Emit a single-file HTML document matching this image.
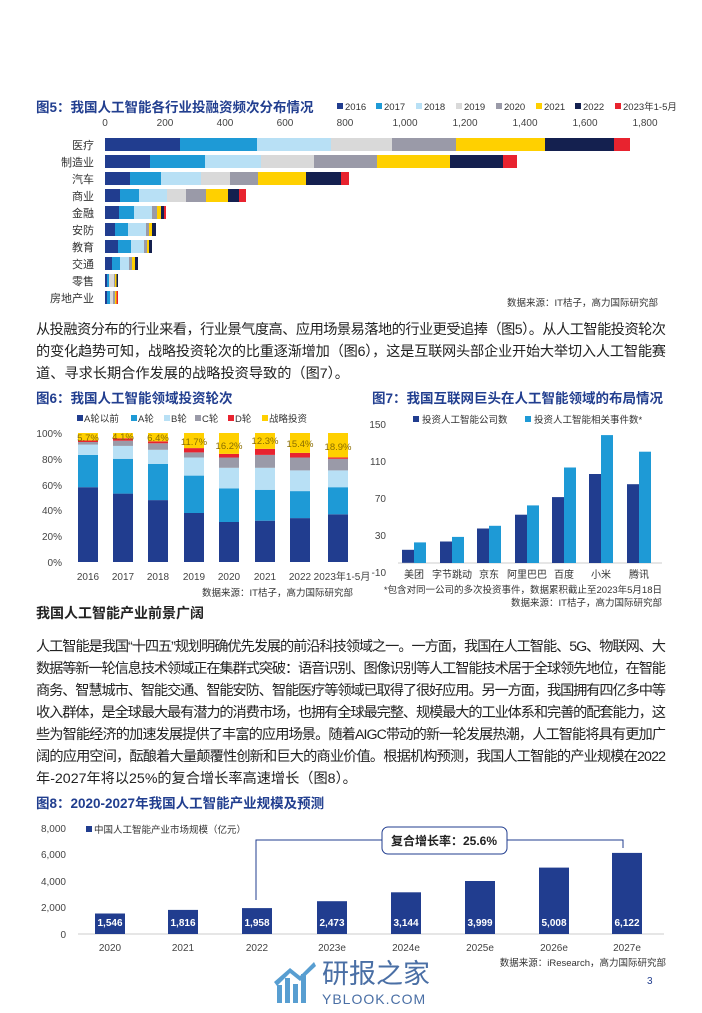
<!DOCTYPE html>
<html><head><meta charset="utf-8"><style>
body{margin:0;background:#fff}
svg{display:block;font-family:"Liberation Sans","Noto Sans CJK SC",sans-serif}
.t{font-weight:bold;fill:#213e8f;font-size:13.5px}
.ax{font-size:10px;fill:#444}
.p{font-size:14.2px;fill:#222}
.s{font-size:9.5px;fill:#333}
</style></head><body>
<svg width="702" height="1013" viewBox="0 0 702 1013" xmlns="http://www.w3.org/2000/svg">
<!-- Fig5 -->
<text x="36" y="112" class="t">图5：我国人工智能各行业投融资频次分布情况</text>
<g font-size="9.5" fill="#333">
<rect x="337" y="103" width="6" height="6" fill="#213d8f"/><text x="345" y="110">2016</text>
<rect x="376" y="103" width="6" height="6" fill="#1e9ad6"/><text x="384" y="110">2017</text>
<rect x="416" y="103" width="6" height="6" fill="#b8e0f5"/><text x="424" y="110">2018</text>
<rect x="456" y="103" width="6" height="6" fill="#d9d9d9"/><text x="464" y="110">2019</text>
<rect x="496" y="103" width="6" height="6" fill="#9a9aa8"/><text x="504" y="110">2020</text>
<rect x="536" y="103" width="6" height="6" fill="#ffd000"/><text x="544" y="110">2021</text>
<rect x="575" y="103" width="6" height="6" fill="#14204f"/><text x="583" y="110">2022</text>
<rect x="615" y="103" width="6" height="6" fill="#e8232f"/><text x="623" y="110">2023年1-5月</text>
</g>
<g class="ax" text-anchor="middle">
<text x="105" y="126">0</text><text x="165" y="126">200</text><text x="225" y="126">400</text><text x="285" y="126">600</text><text x="345" y="126">800</text><text x="405" y="126">1,000</text><text x="465" y="126">1,200</text><text x="525" y="126">1,400</text><text x="585" y="126">1,600</text><text x="645" y="126">1,800</text>
</g>
<g font-size="11" fill="#333" text-anchor="end">
<text x="94" y="149">医疗</text><text x="94" y="166">制造业</text><text x="94" y="183">汽车</text><text x="94" y="200">商业</text><text x="94" y="217">金融</text><text x="94" y="234">安防</text><text x="94" y="251">教育</text><text x="94" y="268">交通</text><text x="94" y="285">零售</text><text x="94" y="302">房地产业</text>
</g>
<g>
<rect x="105" y="138" width="75" height="13" fill="#213d8f"/><rect x="180" y="138" width="77" height="13" fill="#1e9ad6"/><rect x="257" y="138" width="74" height="13" fill="#b8e0f5"/><rect x="331" y="138" width="61" height="13" fill="#d9d9d9"/><rect x="392" y="138" width="64" height="13" fill="#9a9aa8"/><rect x="456" y="138" width="89" height="13" fill="#ffd000"/><rect x="545" y="138" width="69" height="13" fill="#14204f"/><rect x="614" y="138" width="16" height="13" fill="#e8232f"/>
<rect x="105" y="155" width="45" height="13" fill="#213d8f"/><rect x="150" y="155" width="55" height="13" fill="#1e9ad6"/><rect x="205" y="155" width="56" height="13" fill="#b8e0f5"/><rect x="261" y="155" width="53" height="13" fill="#d9d9d9"/><rect x="314" y="155" width="63" height="13" fill="#9a9aa8"/><rect x="377" y="155" width="73" height="13" fill="#ffd000"/><rect x="450" y="155" width="53" height="13" fill="#14204f"/><rect x="503" y="155" width="14" height="13" fill="#e8232f"/>
<rect x="105" y="172" width="25" height="13" fill="#213d8f"/><rect x="130" y="172" width="31" height="13" fill="#1e9ad6"/><rect x="161" y="172" width="40" height="13" fill="#b8e0f5"/><rect x="201" y="172" width="29" height="13" fill="#d9d9d9"/><rect x="230" y="172" width="28" height="13" fill="#9a9aa8"/><rect x="258" y="172" width="48" height="13" fill="#ffd000"/><rect x="306" y="172" width="35" height="13" fill="#14204f"/><rect x="341" y="172" width="8" height="13" fill="#e8232f"/>
<rect x="105" y="189" width="15" height="13" fill="#213d8f"/><rect x="120" y="189" width="19" height="13" fill="#1e9ad6"/><rect x="139" y="189" width="28" height="13" fill="#b8e0f5"/><rect x="167" y="189" width="19" height="13" fill="#d9d9d9"/><rect x="186" y="189" width="20" height="13" fill="#9a9aa8"/><rect x="206" y="189" width="22" height="13" fill="#ffd000"/><rect x="228" y="189" width="11" height="13" fill="#14204f"/><rect x="239" y="189" width="7" height="13" fill="#e8232f"/>
<rect x="105" y="206" width="14" height="13" fill="#213d8f"/><rect x="119" y="206" width="15" height="13" fill="#1e9ad6"/><rect x="134" y="206" width="18" height="13" fill="#b8e0f5"/><rect x="152" y="206" width="5" height="13" fill="#9a9aa8"/><rect x="157" y="206" width="4" height="13" fill="#ffd000"/><rect x="161" y="206" width="3" height="13" fill="#14204f"/><rect x="164" y="206" width="2" height="13" fill="#e8232f"/>
<rect x="105" y="223" width="10" height="13" fill="#213d8f"/><rect x="115" y="223" width="13" height="13" fill="#1e9ad6"/><rect x="128" y="223" width="18" height="13" fill="#b8e0f5"/><rect x="146" y="223" width="3" height="13" fill="#9a9aa8"/><rect x="149" y="223" width="3" height="13" fill="#ffd000"/><rect x="152" y="223" width="4" height="13" fill="#14204f"/>
<rect x="105" y="240" width="13" height="13" fill="#213d8f"/><rect x="118" y="240" width="13" height="13" fill="#1e9ad6"/><rect x="131" y="240" width="13" height="13" fill="#b8e0f5"/><rect x="144" y="240" width="3" height="13" fill="#9a9aa8"/><rect x="147" y="240" width="2" height="13" fill="#ffd000"/><rect x="149" y="240" width="3" height="13" fill="#14204f"/>
<rect x="105" y="257" width="7" height="13" fill="#213d8f"/><rect x="112" y="257" width="8" height="13" fill="#1e9ad6"/><rect x="120" y="257" width="9" height="13" fill="#b8e0f5"/><rect x="129" y="257" width="3" height="13" fill="#9a9aa8"/><rect x="132" y="257" width="3" height="13" fill="#ffd000"/><rect x="135" y="257" width="3" height="13" fill="#14204f"/>
<rect x="105" y="274" width="2" height="13" fill="#213d8f"/><rect x="107" y="274" width="2" height="13" fill="#1e9ad6"/><rect x="109" y="274" width="5" height="13" fill="#d9d9d9"/><rect x="114" y="274" width="1" height="13" fill="#9a9aa8"/><rect x="115" y="274" width="1.5" height="13" fill="#ffd000"/><rect x="116.5" y="274" width="1.5" height="13" fill="#14204f"/>
<rect x="105" y="291" width="2" height="13" fill="#213d8f"/><rect x="107" y="291" width="3" height="13" fill="#1e9ad6"/><rect x="110" y="291" width="3" height="13" fill="#d9d9d9"/><rect x="113" y="291" width="2" height="13" fill="#9a9aa8"/><rect x="115" y="291" width="1.5" height="13" fill="#ffd000"/><rect x="116.5" y="291" width="1.5" height="13" fill="#e8232f"/>
</g>
<text x="658" y="306" class="s" text-anchor="end">数据来源：IT桔子，高力国际研究部</text>
<!-- Paragraph 1 -->
<text x="36" y="334" class="p" textLength="630" lengthAdjust="spacing">从投融资分布的行业来看，行业景气度高、应用场景易落地的行业更受追捧（图5）。从人工智能投资轮次</text>
<text x="36" y="356" class="p" textLength="630" lengthAdjust="spacing">的变化趋势可知，战略投资轮次的比重逐渐增加（图6），这是互联网头部企业开始大举切入人工智能赛</text>
<text x="36" y="378" class="p">道、寻求长期合作发展的战略投资导致的（图7）。</text>
<!-- Fig6 -->
<text x="36" y="403" class="t">图6：我国人工智能领域投资轮次</text>
<g font-size="9.5" fill="#333">
<rect x="77" y="415" width="6" height="6" fill="#213d8f"/><text x="84" y="422">A轮以前</text>
<rect x="131" y="415" width="6" height="6" fill="#1e9ad6"/><text x="138" y="422">A轮</text>
<rect x="164" y="415" width="6" height="6" fill="#b8e0f5"/><text x="171" y="422">B轮</text>
<rect x="195" y="415" width="6" height="6" fill="#9a9aa8"/><text x="202" y="422">C轮</text>
<rect x="228" y="415" width="6" height="6" fill="#e8232f"/><text x="235" y="422">D轮</text>
<rect x="262" y="415" width="6" height="6" fill="#ffd000"/><text x="269" y="422">战略投资</text>
</g>
<g class="ax" text-anchor="end">
<text x="62" y="437">100%</text><text x="62" y="463">80%</text><text x="62" y="489">60%</text><text x="62" y="514">40%</text><text x="62" y="540">20%</text><text x="62" y="566">0%</text>
</g>
<g>
<g transform="translate(78,0)"><rect y="487.2" width="20" height="74.8" fill="#213d8f"/><rect y="454.9" width="20" height="32.3" fill="#1e9ad6"/><rect y="444.6" width="20" height="10.3" fill="#b8e0f5"/><rect y="442" width="20" height="2.6" fill="#9a9aa8"/><rect y="440.4" width="20" height="1.6" fill="#e8232f"/><rect y="433" width="20" height="7.4" fill="#ffd000"/></g>
<g transform="translate(113,0)"><rect y="493.6" width="20" height="68.4" fill="#213d8f"/><rect y="458.8" width="20" height="34.8" fill="#1e9ad6"/><rect y="445.9" width="20" height="12.9" fill="#b8e0f5"/><rect y="440.7" width="20" height="5.2" fill="#9a9aa8"/><rect y="438.3" width="20" height="2.4" fill="#e8232f"/><rect y="433" width="20" height="5.3" fill="#ffd000"/></g>
<g transform="translate(148,0)"><rect y="500.1" width="20" height="61.9" fill="#213d8f"/><rect y="464" width="20" height="36.1" fill="#1e9ad6"/><rect y="449.8" width="20" height="14.2" fill="#b8e0f5"/><rect y="443.3" width="20" height="6.5" fill="#9a9aa8"/><rect y="441.3" width="20" height="2" fill="#e8232f"/><rect y="433" width="20" height="8.3" fill="#ffd000"/></g>
<g transform="translate(184,0)"><rect y="513" width="20" height="49" fill="#213d8f"/><rect y="475.6" width="20" height="37.4" fill="#1e9ad6"/><rect y="457.5" width="20" height="18.1" fill="#b8e0f5"/><rect y="452.4" width="20" height="5.1" fill="#9a9aa8"/><rect y="448.1" width="20" height="4.3" fill="#e8232f"/><rect y="433" width="20" height="15.1" fill="#ffd000"/></g>
<g transform="translate(219,0)"><rect y="522" width="20" height="40" fill="#213d8f"/><rect y="488.5" width="20" height="33.5" fill="#1e9ad6"/><rect y="467.8" width="20" height="20.7" fill="#b8e0f5"/><rect y="457.5" width="20" height="10.3" fill="#9a9aa8"/><rect y="453.9" width="20" height="3.6" fill="#e8232f"/><rect y="433" width="20" height="20.9" fill="#ffd000"/></g>
<g transform="translate(255,0)"><rect y="520.7" width="20" height="41.3" fill="#213d8f"/><rect y="489.8" width="20" height="30.9" fill="#1e9ad6"/><rect y="467.8" width="20" height="22" fill="#b8e0f5"/><rect y="454.9" width="20" height="12.9" fill="#9a9aa8"/><rect y="448.9" width="20" height="6" fill="#e8232f"/><rect y="433" width="20" height="15.9" fill="#ffd000"/></g>
<g transform="translate(290,0)"><rect y="518.1" width="20" height="43.9" fill="#213d8f"/><rect y="491.1" width="20" height="27" fill="#1e9ad6"/><rect y="470.4" width="20" height="20.7" fill="#b8e0f5"/><rect y="457.5" width="20" height="12.9" fill="#9a9aa8"/><rect y="452.9" width="20" height="4.6" fill="#e8232f"/><rect y="433" width="20" height="19.9" fill="#ffd000"/></g>
<g transform="translate(328,0)"><rect y="514.3" width="20" height="47.7" fill="#213d8f"/><rect y="487.2" width="20" height="27.1" fill="#1e9ad6"/><rect y="470.4" width="20" height="16.8" fill="#b8e0f5"/><rect y="458.8" width="20" height="11.6" fill="#9a9aa8"/><rect y="457.4" width="20" height="1.4" fill="#e8232f"/><rect y="433" width="20" height="24.4" fill="#ffd000"/></g>
</g>
<g font-size="9.5" fill="#8a6d00" text-anchor="middle">
<text x="88" y="441">5.7%</text><text x="123" y="440">4.1%</text><text x="158" y="441">6.4%</text><text x="194" y="445">11.7%</text><text x="229" y="449">16.2%</text><text x="265" y="444">12.3%</text><text x="300" y="447">15.4%</text><text x="338" y="450">18.9%</text>
</g>
<g class="ax" text-anchor="middle">
<text x="88" y="580">2016</text><text x="123" y="580">2017</text><text x="158" y="580">2018</text><text x="194" y="580">2019</text><text x="229" y="580">2020</text><text x="265" y="580">2021</text><text x="300" y="580">2022</text><text x="342" y="580">2023年1-5月</text>
</g>
<text x="353" y="596" class="s" text-anchor="end">数据来源：IT桔子，高力国际研究部</text>
<!-- Fig7 -->
<text x="372" y="403" class="t">图7：我国互联网巨头在人工智能领域的布局情况</text>
<g font-size="9.5" fill="#333">
<rect x="413" y="416" width="6" height="6" fill="#213d8f"/><text x="422" y="423">投资人工智能公司数</text>
<rect x="525" y="416" width="6" height="6" fill="#1e9ad6"/><text x="534" y="423">投资人工智能相关事件数*</text>
</g>
<g class="ax" text-anchor="end">
<text x="386" y="428">150</text><text x="386" y="465">110</text><text x="386" y="502">70</text><text x="386" y="539">30</text><text x="386" y="576">-10</text>
</g>
<line x1="398" y1="563" x2="662" y2="563" stroke="#bbb" stroke-width="0.8"/>
<g>
<rect x="402" y="549.8" width="12" height="13" fill="#213d8f"/><rect x="414" y="542.4" width="12" height="20.6" fill="#1e9ad6"/>
<rect x="440" y="541.5" width="12" height="21.5" fill="#213d8f"/><rect x="452" y="536.9" width="12" height="26.1" fill="#1e9ad6"/>
<rect x="477" y="528.5" width="12" height="34.5" fill="#213d8f"/><rect x="489" y="525.8" width="12" height="37.2" fill="#1e9ad6"/>
<rect x="515" y="514.7" width="12" height="48.3" fill="#213d8f"/><rect x="527" y="505.4" width="12" height="57.6" fill="#1e9ad6"/>
<rect x="552" y="497.1" width="12" height="65.9" fill="#213d8f"/><rect x="564" y="467.5" width="12" height="95.5" fill="#1e9ad6"/>
<rect x="589" y="474" width="12" height="89" fill="#213d8f"/><rect x="601" y="435.1" width="12" height="127.9" fill="#1e9ad6"/>
<rect x="627" y="484.2" width="12" height="78.8" fill="#213d8f"/><rect x="639" y="451.7" width="12" height="111.3" fill="#1e9ad6"/>
</g>
<g font-size="10" fill="#333" text-anchor="middle">
<text x="414" y="578">美团</text><text x="452" y="578">字节跳动</text><text x="489" y="578">京东</text><text x="527" y="578">阿里巴巴</text><text x="564" y="578">百度</text><text x="601" y="578">小米</text><text x="639" y="578">腾讯</text>
</g>
<text x="662" y="593" class="s" text-anchor="end">*包含对同一公司的多次投资事件，数据累积截止至2023年5月18日</text>
<text x="662" y="606" class="s" text-anchor="end">数据来源：IT桔子，高力国际研究部</text>
<!-- Para 2 -->
<text x="36" y="618" font-size="14" font-weight="bold" fill="#222">我国人工智能产业前景广阔</text>
<g class="p">
<text x="36" y="651" textLength="630" lengthAdjust="spacing">人工智能是我国“十四五”规划明确优先发展的前沿科技领域之一。一方面，我国在人工智能、5G、物联网、大</text>
<text x="36" y="673" textLength="630" lengthAdjust="spacing">数据等新一轮信息技术领域正在集群式突破：语音识别、图像识别等人工智能技术居于全球领先地位，在智能</text>
<text x="36" y="695" textLength="630" lengthAdjust="spacing">商务、智慧城市、智能交通、智能安防、智能医疗等领域已取得了很好应用。另一方面，我国拥有四亿多中等</text>
<text x="36" y="717" textLength="630" lengthAdjust="spacing">收入群体，是全球最大最有潜力的消费市场，也拥有全球最完整、规模最大的工业体系和完善的配套能力，这</text>
<text x="36" y="739" textLength="630" lengthAdjust="spacing">些为智能经济的加速发展提供了丰富的应用场景。随着AIGC带动的新一轮发展热潮，人工智能将具有更加广</text>
<text x="36" y="761" textLength="630" lengthAdjust="spacing">阔的应用空间，酝酿着大量颠覆性创新和巨大的商业价值。根据机构预测，我国人工智能的产业规模在2022</text>
<text x="36" y="783">年-2027年将以25%的复合增长率高速增长（图8）。</text>
</g>
<!-- Fig8 -->
<text x="36" y="808" class="t">图8：2020-2027年我国人工智能产业规模及预测</text>
<g class="ax" text-anchor="end">
<text x="66" y="832">8,000</text><text x="66" y="858">6,000</text><text x="66" y="885">4,000</text><text x="66" y="911">2,000</text><text x="66" y="938">0</text>
</g>
<rect x="86" y="826" width="6" height="6" fill="#213d8f"/><text x="94" y="833" font-size="9.5" fill="#333">中国人工智能产业市场规模（亿元）</text>
<line x1="78" y1="934" x2="664" y2="934" stroke="#ccc" stroke-width="1"/>
<g fill="#213d8f">
<rect x="95" y="913.5" width="30" height="20.5"/><rect x="168" y="909.9" width="30" height="24.1"/><rect x="242" y="908.1" width="30" height="25.9"/><rect x="317" y="901.2" width="30" height="32.8"/><rect x="391" y="892.3" width="30" height="41.7"/><rect x="465" y="881" width="30" height="53"/><rect x="539" y="867.6" width="30" height="66.4"/><rect x="612" y="852.9" width="30" height="81.1"/>
</g>
<g font-size="10" font-weight="bold" fill="#fff" text-anchor="middle">
<text x="110" y="926">1,546</text><text x="183" y="926">1,816</text><text x="257" y="926">1,958</text><text x="332" y="926">2,473</text><text x="406" y="926">3,144</text><text x="480" y="926">3,999</text><text x="554" y="926">5,008</text><text x="627" y="926">6,122</text>
</g>
<g class="ax" text-anchor="middle">
<text x="110" y="951">2020</text><text x="183" y="951">2021</text><text x="257" y="951">2022</text><text x="332" y="951">2023e</text><text x="406" y="951">2024e</text><text x="480" y="951">2025e</text><text x="554" y="951">2026e</text><text x="627" y="951">2027e</text>
</g>
<polyline points="256,900 256,840 382,840" fill="none" stroke="#213d8f" stroke-width="1"/>
<polyline points="507,840 623,840 623,848" fill="none" stroke="#213d8f" stroke-width="1"/>
<rect x="382" y="827" width="125" height="27" rx="6" fill="#fff" stroke="#213d8f" stroke-width="1"/>
<text x="444" y="845" text-anchor="middle" font-size="12" font-weight="bold" fill="#222">复合增长率：25.6%</text>
<text x="666" y="966" class="s" text-anchor="end">数据来源：iResearch，高力国际研究部</text>
<!-- watermark -->
<g fill="#3b8ec9" opacity="0.85">
<rect x="277" y="985" width="5" height="18"/><rect x="285" y="978" width="5" height="25"/><rect x="293" y="984" width="5" height="19"/><rect x="301" y="974" width="5" height="29"/>
<polygon points="274,982 290,968 300,976 314,962 316,966 300,981 290,973 277,986"/>
</g>
<text x="322" y="983" font-size="27" fill="#4a6fa5">研报之家</text>
<text x="322" y="1004" font-size="14" fill="#4a6fa5" letter-spacing="1">YBLOOK.COM</text>
<text x="647" y="984" font-size="10" fill="#213e8f">3</text>
</svg>
</body></html>
